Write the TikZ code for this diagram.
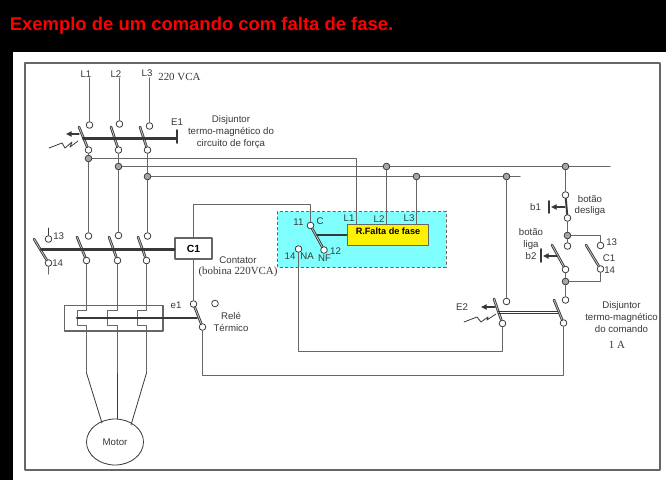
\documentclass[tikz,border=0pt]{standalone}
\usepackage{fontspec}
\setmainfont{Liberation Sans}
\newfontfamily\serifface{Liberation Serif}
\usetikzlibrary{arrows.meta}
\usetikzlibrary{shapes.geometric}
\definecolor{wirecol}{gray}{0.4}
\definecolor{inkcol}{gray}{0.22}
\definecolor{relaybg}{RGB}{128,255,255}
\tikzset{
  wire/.style={draw=wirecol, line width=0.65pt},
  thinwire/.style={draw=inkcol, line width=0.45pt},
  blade/.style={draw=inkcol, line width=0.5pt, double=gray!45, double distance=0.45pt},
  linkbar/.style={draw=inkcol, line width=1.15pt},
  pull/.style={->, draw=inkcol, line width=0.7pt},
  term/.style={circle, draw=inkcol, fill=white, line width=0.45pt, minimum size=3.8pt, inner sep=0pt},
  junct/.style={circle, draw=inkcol, fill=gray!70, line width=0.45pt, minimum size=3.8pt, inner sep=0pt},
  lbl/.style={text=inkcol, inner sep=0pt, font=\fontsize{5.5}{6.6}\selectfont, align=center},
  slbl/.style={text=inkcol, inner sep=0pt, font=\fontsize{6.2}{7}\selectfont\serifface, align=center}
}
\begin{document}
\begin{tikzpicture}[x=0.02cm, y=-0.02cm, line cap=round, line join=round, >={Triangle[length=3.2pt, width=3pt]}]
  \useasboundingbox (0,0) rectangle (666,480);
  \fill[black] (0,0) rectangle (666,480);
  \fill[white] (13,52) rectangle (666,480);
  \draw[wirecol, line width=0.7pt, fill=white] (25,63) rectangle (660,470);
  \node[anchor=west, inner sep=0pt, text=red, font=\fontsize{10.5}{12}\selectfont\bfseries] (title) at (9.5,26) {Exemplo de um comando com falta de fase.};

  % painel do rele
  \fill[relaybg] (277.5,211.5) rectangle (446,267);
  \draw[wirecol, line width=0.45pt, dash pattern=on 1.5pt off 1.5pt] (277.5,211.5) rectangle (446,267);

  % disjuntor E1
  \node[term] (e1a) at (89.5,125) {};
  \node[term] (e1b) at (119.5,124) {};
  \node[term] (e1c) at (149.5,126) {};
  \node[term] (e1d) at (88.5,150) {};
  \node[term] (e1e) at (118.5,150) {};
  \node[term] (e1f) at (147.5,150) {};
  \coordinate (l1top) at (89.5,78);
  \coordinate (l2top) at (119.5,78);
  \coordinate (l3top) at (149.5,78);
  \draw[wire] (l1top) -- (e1a);
  \draw[wire] (l2top) -- (e1b);
  \draw[wire] (l3top) -- (e1c);
  \draw[blade] (79,127) -- (e1d);
  \draw[blade] (111,127) -- (e1e);
  \draw[blade] (140,127) -- (e1f);
  \draw[linkbar] (83,138.5) -- (177,138.5);
  \draw[inkcol, line width=1.1pt] (177,130) -- (177,143);
  \draw[pull] (79,134) -- (66,134);
  \draw[thinwire] (49,148) -- (62,143) -- (65,148) -- (72,142) -- (70,147) -- (78,141);
  \node[junct] (ja) at (88.5,158.5) {};
  \node[junct] (jb) at (118.5,166.5) {};
  \node[junct] (jc) at (147.5,176.5) {};
  \draw[wire] (e1d) -- (ja);
  \draw[wire] (e1e) -- (jb);
  \draw[wire] (e1f) -- (jc);

  % contator C1
  \node[term] (c1a) at (88.5,236) {};
  \node[term] (c1b) at (118.5,235.5) {};
  \node[term] (c1c) at (147.5,236) {};
  \node[term] (c1d) at (86.5,260.5) {};
  \node[term] (c1e) at (117.5,260.5) {};
  \node[term] (c1f) at (146.5,260.5) {};
  \draw[wire] (ja) -- (c1a);
  \draw[wire] (jb) -- (c1b);
  \draw[wire] (jc) -- (c1c);
  \draw[blade] (77,237) -- (c1d);
  \draw[blade] (109,237) -- (c1e);
  \draw[blade] (138,237) -- (c1f);
  \node[term] (aux13) at (48.5,239) {};
  \node[term] (aux14) at (48.5,263) {};
  \coordinate (aux13top) at (48.5,228);
  \coordinate (aux14bot) at (48.5,274);
  \draw[thinwire] (aux13top) -- (aux13);
  \draw[wire] (aux14) -- (aux14bot);
  \draw[blade] (34,239) -- (aux14);
  \node[draw=wirecol, fill=white, line width=0.6pt, inner sep=0pt, text=black, font=\fontsize{5.9}{7}\selectfont\bfseries, minimum height=0.42cm, minimum width=0.74cm] (c1box) at (193.5,248.5) {C1};
  \draw[linkbar] (41,249.5) -- (c1box.west |- 41,249.5);

  % rele termico
  \draw[wire, fill=white] (64.5,305.5) rectangle (163,331);
  \coordinate (ma) at (86.5,373);
  \coordinate (mb) at (117.5,373);
  \coordinate (mc) at (146.5,373);
  \draw[wire] (c1d) |- (77.5,310.5) -- (77.5,325.5) -| (ma);
  \draw[wire] (c1e) |- (107.5,310.5) -- (107.5,325.5) -| (mb);
  \draw[wire] (c1f) |- (137.5,310.5) -- (137.5,325.5) -| (mc);
  \node[term] (ele) at (193.5,304) {};
  \node[term] (elf) at (215,303.5) {};
  \node[term] (elg) at (202.5,327) {};
  \draw[wire] (c1box) -- (ele);
  \draw[blade] (ele) -- (elg);
  \draw[linkbar] (77,318) -- (197,318);

  % motor
  \node[draw=inkcol, line width=0.45pt, ellipse, inner sep=0pt, minimum width=1.14cm, minimum height=0.92cm, text=inkcol, font=\fontsize{5.5}{7}\selectfont] (motor) at (115,442) {Motor};
  \draw[thinwire] (ma) -- (102,423);
  \draw[thinwire] (mb) -- (117.5,419);
  \draw[thinwire] (mc) -- (131,425);

  % rele de falta de fase
  \node[draw=wirecol, fill=yellow, line width=0.7pt, inner sep=0pt, minimum width=1.63cm, minimum height=0.41cm] (relay) at (388,235) {};
  \node[inner sep=0pt, text=black, font=\fontsize{5.2}{7}\selectfont\bfseries] (relaytxt) at (388,231) {R.Falta de fase};
  \node[term] (cc) at (310.5,225.5) {};
  \node[term] (nf) at (324,250) {};
  \node[term] (na) at (298.5,249) {};
  \draw[blade] (cc) -- (nf);
  \draw[linkbar] (317,235) -- (relay.west);
  \coordinate (corner) at (193.5,204.5);
  \draw[wire] (c1box) -- (corner) -| (cc);

  % barras
  \coordinate (barb) at (610,166.5);
  \coordinate (barc) at (520,176.5);
  \coordinate (relayl1) at (356.5,224.5);
  \coordinate (relayl2) at (386.5,224.5);
  \coordinate (relayl3) at (416.5,224.5);
  \draw[wire] (ja) -| (relayl1);
  \draw[wire] (jb) -- (barb);
  \draw[wire] (jc) -- (barc);
  \node[junct] (jl2) at (386.5,166.5) {};
  \node[junct] (jl3) at (416.5,176.5) {};
  \node[junct] (je2) at (506.5,176.5) {};
  \node[junct] (jb1) at (565.5,166.5) {};
  \draw[wire] (jl2) -- (relayl2);
  \draw[wire] (jl3) -- (relayl3);

  % comando
  \node[term] (b1a) at (565.5,195) {};
  \node[term] (b1b) at (567.5,218) {};
  \node[junct] (jb2) at (567.5,235.5) {};
  \node[term] (b2a) at (567.5,246) {};
  \node[term] (b2b) at (565.5,269.5) {};
  \node[term] (c13) at (600.5,245.5) {};
  \node[term] (c14) at (600.5,269) {};
  \node[junct] (jout) at (565.5,281.5) {};
  \node[term] (e2c) at (565.5,300) {};
  \node[term] (e2d) at (563.5,323) {};
  \node[term] (e2a) at (506.5,301.5) {};
  \node[term] (e2b) at (502.5,323.5) {};
  \draw[wire] (jb1) -- (b1a);
  \draw[inkcol, line width=1.1pt] (b1a) -- (b1b);
  \draw[wire] (b1b) -- (jb2);
  \draw[wire] (jb2) -- (b2a);
  \draw[wire] (jb2) -| (c13);
  \draw[blade] (552,245) -- (b2b);
  \draw[blade] (586,245) -- (c14);
  \draw[wire] (b2b) -- (jout);
  \draw[wire] (c14) |- (jout);
  \draw[wire] (jout) -- (e2c);
  \draw[pull] (565,207) -- (551,207);
  \draw[inkcol, line width=1pt] (549,201) -- (549,213);
  \draw[pull] (557,256) -- (543,256);
  \draw[inkcol, line width=1pt] (541,249) -- (541,262);

  % disjuntor E2
  \draw[wire] (je2) -- (e2a);
  \draw[blade] (494,299) -- (e2b);
  \draw[blade] (554,300) -- (e2d);
  \draw[thinwire] (498,311) -- (558,311);
  \draw[thinwire] (498,313.5) -- (558,313.5);
  \draw[pull] (495,307) -- (481,307);
  \draw[thinwire] (464,322) -- (477,317) -- (481,322) -- (488,317) -- (487,320) -- (496,314);
  \coordinate (natrn) at (298.5,351.5);
  \coordinate (eltrn) at (202.5,375.5);
  \draw[wire] (e2b) |- (natrn) -- (na);
  \draw[wire] (elg) -- (eltrn) -| (e2d);

  % textos
  \node[lbl] (tl1) at (86,74.5) {L1};
  \node[lbl] (tl2) at (116,74.5) {L2};
  \node[lbl] (tl3) at (147,73) {L3};
  \node[slbl, anchor=west] (tv) at (158,77) {220 VCA};
  \node[lbl] (te1) at (177,122) {E1};
  \node[lbl] (tdj) at (231,132) {Disjuntor\\termo-magnético do\\circuito de força};
  \node[lbl, anchor=west] (t13) at (53,236) {13};
  \node[lbl, anchor=west] (t14) at (52,263) {14};
  \node[lbl] (te) at (176,305) {e1};
  \node[lbl] (trele) at (231,322) {Relé\\Térmico};
  \node[lbl] (tcon) at (238,260) {Contator};
  \node[slbl] (tbob) at (238,271.5) {(bobina 220VCA)};
  \node[lbl] (t11) at (298.5,222) {11};
  \node[lbl] (tc) at (320,221.5) {C};
  \node[lbl] (t12) at (335.5,251) {12};
  \node[lbl] (tnf) at (324.5,258.5) {NF};
  \node[lbl] (t14r) at (290,256) {14};
  \node[lbl] (tna) at (307,256) {NA};
  \node[lbl] (trl1) at (349,218) {L1};
  \node[lbl] (trl2) at (379,219) {L2};
  \node[lbl] (trl3) at (409,218) {L3};
  \node[lbl] (tb1) at (535.5,207) {b1};
  \node[lbl] (tdes) at (590,205.5) {botão\\desliga};
  \node[lbl] (tlig) at (531,244) {botão\\liga\\b2};
  \node[lbl, anchor=west] (tk13) at (606,242) {13};
  \node[lbl] (tkc1) at (609,258) {C1};
  \node[lbl, anchor=west] (tk14) at (604,270) {14};
  \node[lbl] (te2) at (462,307) {E2};
  \node[lbl] (tdj2) at (621.5,317) {Disjuntor\\termo-magnético\\do comando};
  \node[slbl] (ta) at (617,345) {1 A};
\end{tikzpicture}
\end{document}
